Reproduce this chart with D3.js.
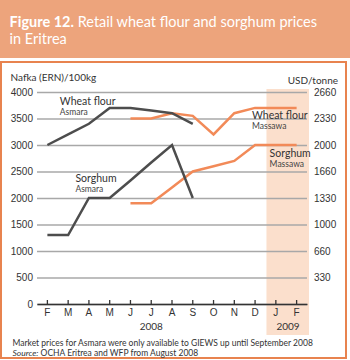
<!DOCTYPE html>
<html>
<head>
<meta charset="utf-8">
<script src="https://cdn.jsdelivr.net/npm/d3@7"></script>
<style>
  body { margin: 0; background: #fff; }
  svg { display: block; font-family: Lato, "Open Sans", sans-serif; }
  .axis text { font-size: 10px; fill: #333; }
  .grid line { stroke: #a8a8a8; stroke-width: 1.5; }
  .line { fill: none; stroke-width: 2.5; stroke-linejoin: miter; }
</style>
</head>
<body>
<svg width="350" height="360"></svg>
<script>
// DATA
const months = ["F", "M", "A", "M", "J", "J", "A", "S", "O", "N", "D", "J", "F"]
const years = ["2008", "2009"]
const ernTicks = [0, 500, 1000, 1500, 2000, 2500, 3000, 3500, 4000]
const usdLabels = ["330", "660", "1000", "1330", "1660", "2000", "2330", "2660"]

const wheatAsmara = [3000, 3200, 3400, 3700, 3700, 3650, 3600, 3400, null, null, null, null, null]
const sorghumAsmara = [1300, 1300, 2000, 2000, 2330, 2670, 3000, 2000, null, null, null, null, null]
const wheatMassawa = [null, null, null, null, 3500, 3500, 3600, 3550, 3200, 3600, 3700, 3700, 3700]
const sorghumMassawa = [null, null, null, null, 1900, 1900, 2200, 2500, 2600, 2700, 3000, 3000, 3000]

// SETUP
const svg = d3.select("svg")

svg.append("rect")
  .attr("x", 0).attr("y", 0)
  .attr("width", 350).attr("height", 58)
  .attr("fill", "#eda47c")

const title = svg.append("text")
  .attr("fill", "#fff")
  .attr("font-size", 14.5)

title.append("tspan")
  .attr("x", 9.5).attr("y", 26.5)
  .attr("font-weight", "bold")
  .text("Figure 12.")
title.append("tspan")
  .text(" Retail wheat flour and sorghum prices")
title.append("tspan")
  .attr("x", 9.5).attr("y", 43.5)
  .text("in Eritrea")

svg.append("rect")
  .attr("x", 1).attr("y", 62)
  .attr("width", 345).attr("height", 296)
  .attr("fill", "none")
  .attr("stroke", "#e8834f")
  .attr("stroke-width", 2)

// SCALES
const x = d3.scaleBand()
  .domain(d3.range(months.length))
  .range([37, 307])

const y = d3.scaleLinear()
  .domain([0, 4000])
  .range([304, 92])

const cx = (i) => x(i) + x.bandwidth() / 2

// 2009 shading
svg.append("rect")
  .attr("x", x(11) + 1)
  .attr("y", 89)
  .attr("width", x.bandwidth() * 2 + 1)
  .attr("height", 246)
  .attr("fill", "#fbdfcc")

// gridlines + left labels
const axisYGroup = svg.append("g")
  .attr("class", "axis grid")
  .attr("transform", "translate(37, 0)")
  .call(d3.axisLeft(y)
    .tickValues(ernTicks)
    .tickFormat(d3.format("d"))
    .tickSize(-270)
    .tickPadding(4))
axisYGroup.select(".domain").remove()

// right labels
const axisRGroup = svg.append("g")
  .attr("class", "axis")
  .attr("transform", "translate(307, 0)")
  .call(d3.axisRight(y)
    .tickValues(ernTicks.slice(1))
    .tickFormat((d, i) => usdLabels[i])
    .tickSize(0)
    .tickPadding(7))
axisRGroup.select(".domain").remove()

// x axis
const axisXGroup = svg.append("g")
  .attr("class", "axis")
  .attr("transform", "translate(0, 304)")
  .call(d3.axisBottom(x)
    .tickFormat((d) => months[d])
    .tickSizeInner(-4)
    .tickSizeOuter(0)
    .tickPadding(5))
axisXGroup.select(".domain").attr("stroke", "#333").attr("stroke-width", 1.5)
axisXGroup.selectAll(".tick line").attr("stroke", "#333").attr("stroke-width", 1.3)

svg.append("text")
  .attr("x", cx(5)).attr("y", 329.5)
  .attr("text-anchor", "middle")
  .attr("font-size", 10).attr("fill", "#333")
  .text(years[0])
svg.append("text")
  .attr("x", cx(12) + 3).attr("y", 329.5)
  .attr("text-anchor", "end")
  .attr("font-size", 10).attr("fill", "#333")
  .text(years[1])

// unit labels
svg.append("text")
  .attr("x", 10.5).attr("y", 80.5)
  .attr("font-size", 10).attr("fill", "#333")
  .text("Nafka (ERN)/100kg")
svg.append("text")
  .attr("x", 338).attr("y", 84)
  .attr("text-anchor", "end")
  .attr("font-size", 10).attr("fill", "#333")
  .text("USD/tonne")

// LINES
const line = d3.line()
  .defined((d) => d != null)
  .x((d, i) => cx(i))
  .y((d) => y(d))

const series = [
  { values: sorghumMassawa, color: "#f28a58" },
  { values: wheatMassawa, color: "#f28a58" },
  { values: sorghumAsmara, color: "#4d4d4d" },
  { values: wheatAsmara, color: "#4d4d4d" }
]

svg.selectAll("path.line")
  .data(series)
  .enter()
  .append("path")
  .attr("class", "line")
  .attr("stroke", (d) => d.color)
  .attr("d", (d) => line(d.values))

// line labels
const labels = [
  { name: "Wheat flour", place: "Asmara", i: 0.6, v: 3750 },
  { name: "Sorghum", place: "Asmara", i: 1.35, v: 2310 },
  { name: "Wheat flour", place: "Massawa", i: 9.85, v: 3500 },
  { name: "Sorghum", place: "Massawa", i: 10.7, v: 2770 }
]

const labelG = svg.selectAll("g.label")
  .data(labels)
  .enter()
  .append("g")
  .attr("class", "label")
  .attr("transform", (d) => `translate(${cx(0) + d.i * x.step()}, ${y(d.v)})`)

labelG.append("text")
  .attr("font-size", 10.5).attr("fill", "#333")
  .text((d) => d.name)
labelG.append("text")
  .attr("y", 10)
  .attr("font-size", 8.5).attr("fill", "#444")
  .text((d) => d.place)

// footer
svg.append("text")
  .attr("x", 12.5).attr("y", 345.5)
  .attr("font-size", 8.5).attr("fill", "#333")
  .text("Market prices for Asmara were only available to GIEWS up until September 2008")

const source = svg.append("text")
  .attr("x", 12.5).attr("y", 356)
  .attr("font-size", 8.5).attr("fill", "#333")
source.append("tspan").attr("font-style", "italic").text("Source:")
source.append("tspan").text(" OCHA Eritrea and WFP from August 2008")
</script>
</body>
</html>
